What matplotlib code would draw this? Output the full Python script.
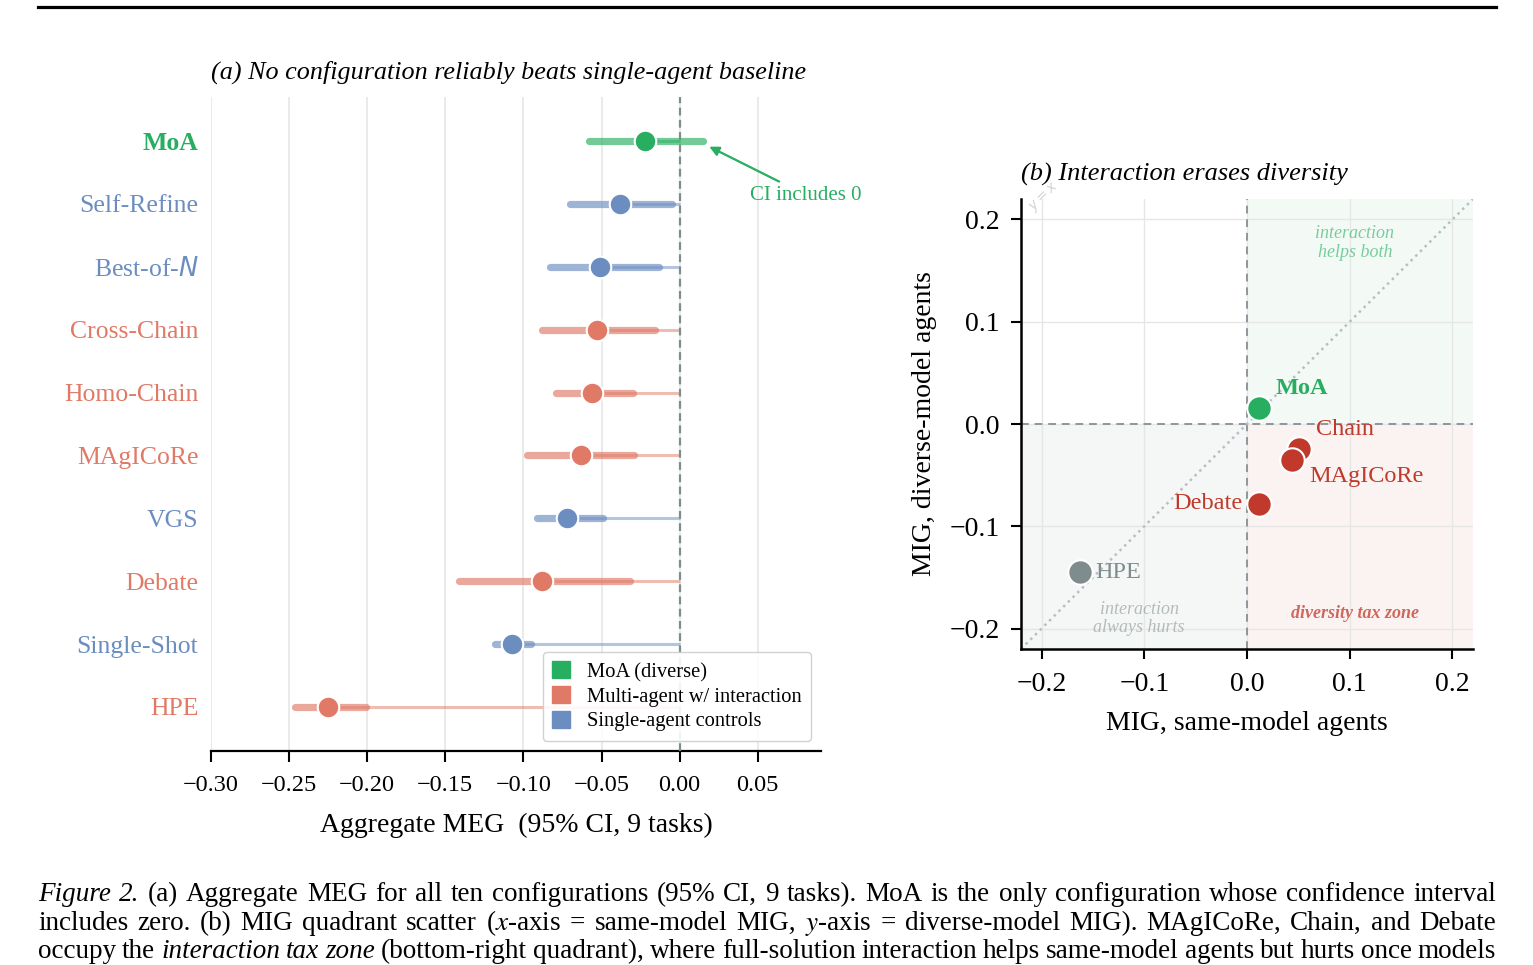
import numpy as np
import matplotlib
matplotlib.use('Agg')
import matplotlib.pyplot as plt
from matplotlib.patches import Patch, Rectangle
from matplotlib.lines import Line2D

plt.rcParams['font.family'] = ['Liberation Serif', 'DejaVu Serif']
plt.rcParams['axes.unicode_minus'] = True

# ---- data: panel (a) ----
configs = ['MoA', 'Self-Refine', 'Best-of-$N$', 'Cross-Chain', 'Homo-Chain',
           'MAgICoRe', 'VGS', 'Debate', 'Single-Shot', 'HPE']
groups = ['moa', 'single', 'single', 'multi', 'multi',
          'multi', 'single', 'multi', 'single', 'multi']
meg_mean = [-0.022, -0.038, -0.051, -0.053, -0.056, -0.063, -0.072, -0.088, -0.107, -0.225]
ci_lo = [-0.058, -0.070, -0.083, -0.088, -0.079, -0.098, -0.091, -0.141, -0.118, -0.246]
ci_hi = [0.015, -0.005, -0.013, -0.016, -0.030, -0.029, -0.049, -0.032, -0.095, -0.201]
xticks_a = [-0.30, -0.25, -0.20, -0.15, -0.10, -0.05, 0.00, 0.05]

# ---- data: panel (b) ----
mig_names = ['MoA', 'Chain', 'MAgICoRe', 'Debate', 'HPE']
mig_same = [0.012, 0.051, 0.044, 0.012, -0.163]
mig_diverse = [0.016, -0.024, -0.035, -0.078, -0.145]
mig_kind = ['moa', 'multi', 'multi', 'multi', 'hpe']
ticks_b = [-0.2, -0.1, 0.0, 0.1, 0.2]

col_a = {'moa': '#27ae60', 'multi': '#e07a67', 'single': '#6b8dc0'}
col_b = {'moa': '#27ae60', 'multi': '#c0392b', 'hpe': '#7f8c8d'}

W, H = 1533, 965
fig = plt.figure(figsize=(W / 100, H / 100), dpi=100)

# page rule at top
fig.add_artist(Line2D([38 / W, 1496 / W], [1 - 7 / H, 1 - 7 / H], color='black', lw=2.3))

# ================= panel (a) =================
ax = fig.add_axes([211 / W, 1 - 751 / H, 610 / W, 654 / H])
ypos = np.arange(len(configs))
for i in range(len(configs)):
    c = col_a[groups[i]]
    ax.plot([ci_lo[i], ci_hi[i]], [ypos[i], ypos[i]], color=c, lw=5.2, alpha=0.65,
            solid_capstyle='round', zorder=2)
    ax.plot([meg_mean[i], 0], [ypos[i], ypos[i]], color=c, lw=2.2, alpha=0.5,
            solid_capstyle='butt', zorder=2)
    ax.plot(meg_mean[i], ypos[i], 'o', ms=15.5, color=c, mec='white', mew=1.5, zorder=4)

ax.axvline(0, color='#7f8c8d', lw=1.6, ls=(0, (3.5, 2)), zorder=3)
ax.set_xlim(-0.30, 0.0905)
ax.set_ylim(9.7, -0.7)
ax.set_xticks(xticks_a)
ax.set_xticklabels(['{:.2f}'.format(v).replace('-', '\u2212') for v in xticks_a])
ax.set_yticks(ypos)
ax.set_yticklabels(configs)
ax.tick_params(axis='y', length=0, pad=9, labelsize=18.5)
ax.tick_params(axis='x', length=8, width=1.5, pad=9.5, labelsize=17.5)
for lab, g in zip(ax.get_yticklabels(), groups):
    lab.set_color(col_a[g])
    if g == 'moa':
        lab.set_fontweight('bold')
ax.grid(axis='x', color='#e6e6e6', lw=1.2)
ax.set_axisbelow(True)
for s in ['left', 'right', 'top']:
    ax.spines[s].set_visible(False)
ax.spines['bottom'].set_linewidth(1.6)
ax.set_xlabel('Aggregate MEG  (95% CI, 9 tasks)', fontsize=20, labelpad=12)
ax.set_title('(a) No configuration reliably beats single-agent baseline',
             loc='left', style='italic', fontsize=18.8, pad=13.5)

ax.annotate('CI includes 0', xy=(0.019, 0.09), xytext=(0.081, 0.86),
            color=col_a['moa'], fontsize=15, ha='center', va='center',
            arrowprops=dict(arrowstyle='-|>', color=col_a['moa'], lw=1.6,
                            mutation_scale=14, shrinkA=2, shrinkB=0))

handles = [Patch(color=col_a['moa'], label='MoA (diverse)'),
           Patch(color=col_a['multi'], label='Multi-agent w/ interaction'),
           Patch(color=col_a['single'], label='Single-agent controls')]
leg = ax.legend(handles=handles, loc='lower right', fontsize=14.8, handlelength=0.9,
                handleheight=0.9, handletextpad=0.8, labelspacing=0.2,
                framealpha=0.9, edgecolor='#cccccc', borderpad=0.45)
leg.set_zorder(6)

# ================= panel (b) =================
bx = fig.add_axes([1021 / W, 1 - 649 / H, 452 / W, 450 / H])
lim = 0.22
bx.set_xlim(-lim, lim)
bx.set_ylim(-lim, lim)
bx.add_patch(Rectangle((0, 0), lim, lim, color='#27ae60', alpha=0.05, lw=0, zorder=0))
bx.add_patch(Rectangle((0, -lim), lim, lim, color='#c0392b', alpha=0.06, lw=0, zorder=0))
bx.add_patch(Rectangle((-lim, -lim), lim, lim, color='#7f8c8d', alpha=0.07, lw=0, zorder=0))
bx.grid(color='#e6e6e6', lw=1.0)
bx.set_axisbelow(True)
bx.axhline(0, color='#8e969c', lw=1.4, ls=(0, (4, 3)), zorder=1)
bx.axvline(0, color='#8e969c', lw=1.4, ls=(0, (4, 3)), zorder=1)
bx.plot([-lim, lim], [-lim, lim], color='#b8bfc4', lw=1.8, ls=':', zorder=1)
bx.text(-0.197, 0.222, '$y = x$', rotation=45, fontsize=10, color='#cfd3d6',
        ha='center', va='center', clip_on=False)

for n, xs, yd, k in zip(mig_names, mig_same, mig_diverse, mig_kind):
    bx.scatter(xs, yd, s=310, color=col_b[k], edgecolor='white', linewidth=1.5, zorder=5)

lab_off = {'MoA': (11.5, 13.5, 'left'), 'Chain': (12, 14, 'left'),
           'MAgICoRe': (12, -12, 'left'), 'Debate': (-12, 0, 'right'),
           'HPE': (11, 0, 'left')}
for n, xs, yd, k in zip(mig_names, mig_same, mig_diverse, mig_kind):
    dx, dy, ha = lab_off[n]
    bx.annotate(n, (xs, yd), xytext=(dx, dy), textcoords='offset points',
                ha=ha, va='center', fontsize=17.5, color=col_b[k],
                fontweight='bold' if k == 'moa' else 'normal', zorder=6)

bx.text(0.105, 0.177, 'interaction\nhelps both', color='#27ae60', alpha=0.6,
        style='italic', fontsize=13, ha='center', va='center', linespacing=1.1)
bx.text(-0.105, -0.19, 'interaction\nalways hurts', color='#7f8c8d', alpha=0.55,
        style='italic', fontsize=13, ha='center', va='center', linespacing=1.1)
bx.text(0.105, -0.185, 'diversity tax zone', color='#c0392b', alpha=0.75,
        style='italic', fontweight='bold', fontsize=13, ha='center', va='center')

bx.set_xticks(ticks_b)
bx.set_yticks(ticks_b)
bx.set_xticklabels(['{:.1f}'.format(v).replace('-', '\u2212') for v in ticks_b])
bx.set_yticklabels(['{:.1f}'.format(v).replace('-', '\u2212') for v in ticks_b])
bx.tick_params(length=7, width=1.5, labelsize=20)
bx.tick_params(axis='x', pad=9.5)
bx.tick_params(axis='y', pad=8.5)
for s in ['right', 'top']:
    bx.spines[s].set_visible(False)
for s in ['left', 'bottom']:
    bx.spines[s].set_linewidth(1.8)
bx.set_xlabel('MIG, same-model agents', fontsize=20, labelpad=10)
bx.set_ylabel('MIG, diverse-model agents', fontsize=20, labelpad=9)
bx.set_title('(b) Interaction erases diversity', loc='left', style='italic',
             fontsize=19, pad=13.5)

# ================= caption (justified lines) =================
caption_lines = [
    [('Figure 2.', True),
     ('(a) Aggregate MEG for all ten configurations (95% CI, 9 tasks). '
      'MoA is the only configuration whose confidence interval', False)],
    [('includes zero. (b) MIG quadrant scatter ($x$-axis = same-model MIG, '
      '$y$-axis = diverse-model MIG). MAgICoRe, Chain, and Debate', False)],
    [('occupy the', False), ('interaction tax zone', True),
     ('(bottom-right quadrant), where full-solution interaction helps '
      'same-model agents but hurts once models', False)],
]
baselines = [901, 930, 958]
x0, x1 = 38, 1496
renderer = fig.canvas.get_renderer()
for line, yb in zip(caption_lines, baselines):
    words = []
    for chunk, ital in line:
        for w in chunk.split(' '):
            words.append((w, ital))
    txts = []
    for w, ital in words:
        t = fig.text(0, 1 - yb / H, w, fontsize=19.5, va='baseline',
                     style='italic' if ital else 'normal', math_fontfamily='stix')
        txts.append(t)
    widths = [t.get_window_extent(renderer).width for t in txts]
    gap = (x1 - x0 - sum(widths)) / (len(txts) - 1)
    xc = x0
    for t, wd in zip(txts, widths):
        t.set_x(xc / W)
        xc += wd + gap

fig.savefig('out.png', dpi=100)
